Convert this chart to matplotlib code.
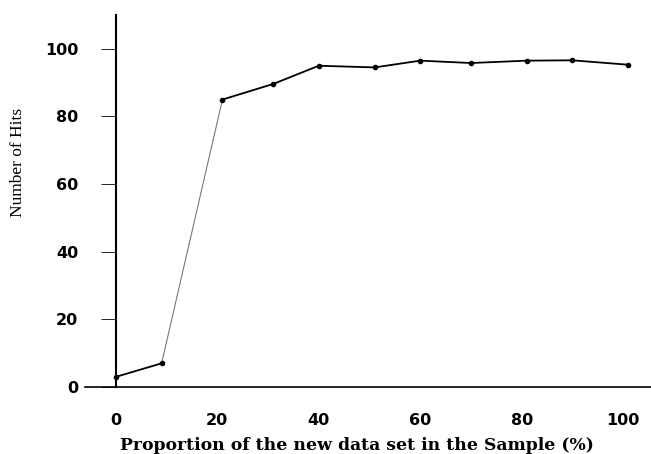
import matplotlib.pyplot as plt

# values
proportion = [0, 9, 21, 31, 40, 51, 60, 70, 81, 90, 101]
hits = [3, 7, 85, 89.6, 95, 94.5, 96.5, 95.8, 96.5, 96.6, 95.3]
y_ticks = [0, 20, 40, 60, 80, 100]
x_ticks = [0, 20, 40, 60, 80, 100]

fig = plt.figure(figsize=(6.51, 4.54), dpi=100)
ax = fig.add_axes([85 / 651, 1 - 387 / 454, 1 - 85 / 651, 372 / 454])

# thin grey segment for the steep jump, heavier black elsewhere
for i in range(len(proportion) - 1):
    thin = i == 1
    ax.plot(proportion[i:i + 2], hits[i:i + 2],
            color='#777777' if thin else 'black',
            linewidth=0.8 if thin else 1.3, solid_capstyle='butt')
ax.plot(proportion, hits, 'o', color='black', markersize=3)

ax.set_xlim(-6.1, 105.5)
ax.set_ylim(0, 110)

ax.spines['top'].set_visible(False)
ax.spines['right'].set_visible(False)
ax.spines['left'].set_position(('data', 0))
ax.spines['left'].set_linewidth(1.5)
ax.spines['bottom'].set_linewidth(1.2)

ax.set_yticks(y_ticks)
ax.set_xticks(x_ticks)
ax.tick_params(axis='y', length=11, width=0.6, pad=16)
ax.tick_params(axis='x', length=0, pad=19)
for lab in ax.get_xticklabels() + ax.get_yticklabels():
    lab.set_fontweight('bold')
    lab.set_fontsize(11.5)
    lab.set_family('DejaVu Sans')

fig.text(357 / 651, 1 - 445 / 454, 'Proportion of the new data set in the Sample (%)',
         ha='center', va='center', family='DejaVu Serif', fontweight='bold', fontsize=12.4)
fig.text(18 / 651, 1 - 162 / 454, 'Number of Hits', rotation=90,
         ha='center', va='center', family='Liberation Serif', fontsize=12.5)

plt.savefig('out.png', dpi=100)
